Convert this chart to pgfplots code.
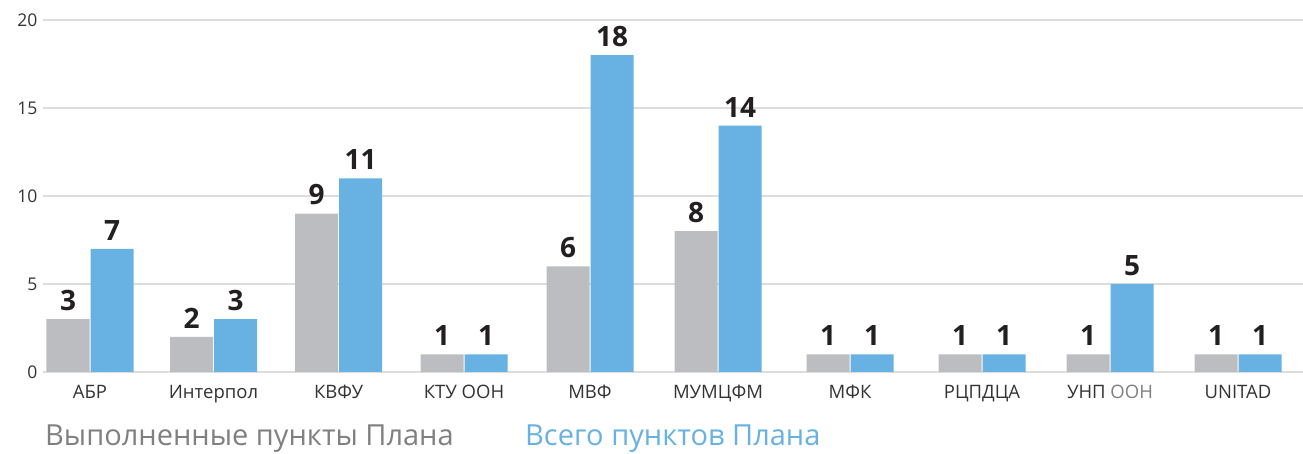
\documentclass[border=0pt]{standalone}
\usepackage{pgfplots}
\pgfplotsset{compat=1.18}
\usepackage{fontspec}
\setmainfont{Open Sans}
\definecolor{bargrey}{HTML}{BCBDC0}
\definecolor{barblue}{HTML}{67B1E3}
\definecolor{gridc}{HTML}{DDDDDD}
\definecolor{txt}{HTML}{333333}
\definecolor{lab}{HTML}{231F20}
\definecolor{leggrey}{HTML}{808080}
\begin{document}
\begin{tikzpicture}[x=1pt,y=1pt]
\begin{axis}[
  at={(0,0)}, anchor=south west,
  scale only axis, width=1260pt, height=352pt,
  ybar=1pt, bar width=43pt,
  xmin=0, xmax=1260, ymin=0, ymax=20,
  ytick={0,5,10,15,20},
  xtick={47,170.5,295.5,421,547,675,807,939,1067,1195},
  xticklabels={АБР,Интерпол,КВФУ,КТУ ООН,МВФ,МУМЦФМ,МФК,РЦПДЦА,{УНП \textcolor{leggrey}{ООН}},UNITAD},
  axis line style={draw=none},
  major tick length=0pt,
  ymajorgrids, grid style={gridc, line width=1.5pt},
  /pgf/number format/assume math mode=true,
  yticklabel style={font=\fontsize{17.5}{20}\selectfont, color=txt, xshift=-2pt},
  xticklabel style={font=\fontsize{18.5}{20}\selectfont, color=txt, yshift=-10pt},
  nodes near coords,
  nodes near coords style={font=\fontsize{28}{30}\selectfont\bfseries, color=lab, anchor=south, yshift=5pt},
  clip=false,
]
\addplot[fill=bargrey, draw=none] coordinates {(47,3) (170.5,2) (295.5,9) (421,1) (547,6) (675,8) (807,1) (939,1) (1067,1) (1195,1)};
\addplot[fill=barblue, draw=none] coordinates {(47,7) (170.5,3) (295.5,11) (421,1) (547,18) (675,14) (807,1) (939,1) (1067,5) (1195,1)};
\end{axis}
\node[anchor=base west, inner sep=0pt, text=leggrey, font=\fontsize{29}{30}\selectfont] at (2,-74) {Выполненные пункты Плана};
\node[anchor=base west, inner sep=0pt, text=barblue, font=\fontsize{29}{30}\selectfont] at (482,-74) {Всего пунктов Плана};
\pgfresetboundingbox
\path[use as bounding box] (-43,-82) rectangle (1260,372);
\end{tikzpicture}
\end{document}
